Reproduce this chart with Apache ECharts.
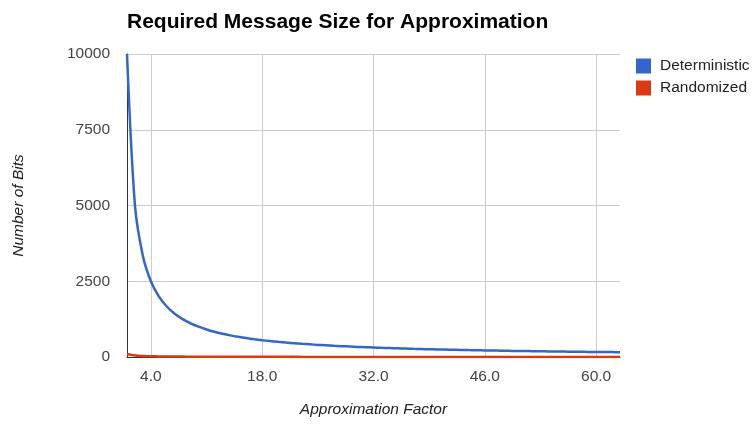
<!DOCTYPE html>
<html>
<head>
<meta charset="utf-8">
<script src="https://cdn.jsdelivr.net/npm/echarts@6/dist/echarts.min.js"></script>
<style>
  html, body { margin: 0; padding: 0; background: #fff; }
  #chart { width: 752px; height: 428px; }
</style>
</head>
<body>
<div id="chart"></div>
<script>
// Approximation factor (x) and required message size in bits for each scheme
const factors = [1,2,3,4,5,6,7,8,9,10,11,12,13,14,15,16,17,18,19,20,21,22,23,24,25,26,27,28,29,30,31,32,33,34,35,36,37,38,39,40,41,42,43,44,45,46,47,48,49,50,51,52,53,54,55,56,57,58,59,60,61,62,63];
const deterministic = [10000,5000,3333,2500,2000,1667,1429,1250,1111,1000,909,833,769,714,667,625,588,556,526,500,476,455,435,417,400,385,370,357,345,333,323,313,303,294,286,278,270,263,256,250,244,238,233,227,222,217,213,208,204,200,196,192,189,185,182,179,175,172,169,167,164,161,159];
const randomized = [100,50,33,25,20,17,14,13,11,10,9,8,8,7,7,6,6,6,5,5,5,5,4,4,4,4,4,4,3,3,3,3,3,3,3,3,3,3,3,3,2,2,2,2,2,2,2,2,2,2,2,2,2,2,2,2,2,2,2,2,2,2,2];
const xTicks = [4, 18, 32, 46, 60];

const FONT = '"Liberation Sans", Arial, sans-serif';
const pairs = arr => factors.map((f, i) => [f, arr[i]]);

const chart = echarts.init(document.getElementById('chart'), null, { renderer: 'canvas' });
chart.setOption({
  animation: false,
  color: ['#3366cc', '#dc3912'],
  title: {
    text: 'Required Message Size for Approximation',
    left: 127, top: 12, padding: 0,
    textStyle: { fontFamily: FONT, fontSize: 21, fontWeight: 'bold', color: '#000' }
  },
  legend: {
    orient: 'vertical',
    left: 636, top: 58, padding: 0,
    itemWidth: 15, itemHeight: 15, itemGap: 6,
    icon: 'rect',
    textStyle: { fontFamily: FONT, fontSize: 15.5, color: '#222', padding: [0, 0, 0, 4] },
    data: ['Deterministic', 'Randomized']
  },
  grid: { left: 127, right: 132, top: 54, bottom: 71, containLabel: false },
  xAxis: {
    type: 'value',
    min: 1, max: 63,
    name: 'Approximation Factor',
    nameLocation: 'middle', nameGap: 45,
    nameTextStyle: { fontFamily: FONT, fontSize: 15.5, fontStyle: 'italic', color: '#222' },
    axisLine: { show: true, lineStyle: { color: '#333', width: 1 } },
    axisTick: { show: false, customValues: xTicks },
    axisLabel: {
      customValues: xTicks,
      formatter: v => v.toFixed(1),
      fontFamily: FONT, fontSize: 15.5, color: '#444', margin: 12
    },
    splitLine: { show: false }
  },
  yAxis: {
    type: 'value',
    min: 0, max: 10000, interval: 2500,
    name: 'Number of Bits',
    nameLocation: 'middle', nameGap: 100, nameRotate: 90,
    nameTextStyle: { fontFamily: FONT, fontSize: 15.5, fontStyle: 'italic', color: '#222' },
    axisLine: { show: true, lineStyle: { color: '#333', width: 1 } },
    axisTick: { show: false },
    axisLabel: {
      formatter: v => String(v),
      fontFamily: FONT, fontSize: 15.5, color: '#444', margin: 17
    },
    splitLine: { show: true, lineStyle: { color: '#cccccc', width: 1 } }
  },
  series: [
    {
      name: 'Deterministic', type: 'line', data: pairs(deterministic),
      showSymbol: false, smooth: 0.3, z: 3,
      lineStyle: { width: 2.5 },
      markLine: {
        silent: true, symbol: 'none', label: { show: false },
        lineStyle: { color: '#cccccc', width: 1, type: 'solid' },
        data: xTicks.map(x => ({ xAxis: x })),
        z: 1
      }
    },
    {
      name: 'Randomized', type: 'line', data: pairs(randomized),
      showSymbol: false, smooth: 0.3, z: 4,
      lineStyle: { width: 2.5 }
    }
  ]
});
</script>
</body>
</html>
